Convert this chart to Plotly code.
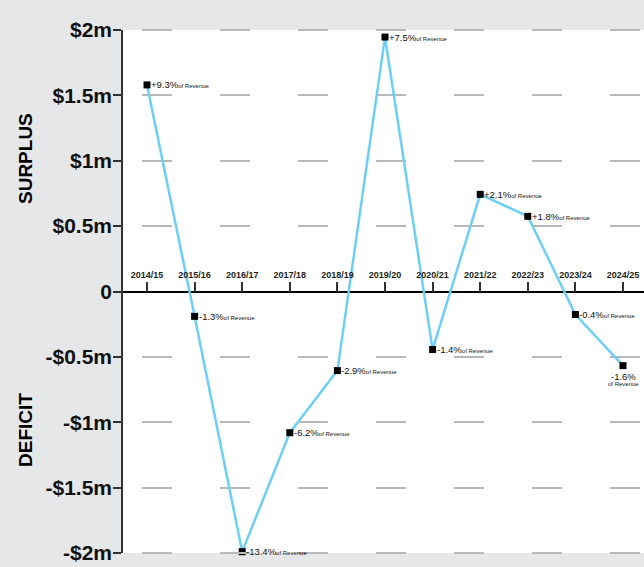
import plotly.graph_objects as go

# Annual operating result ($m) with result as share of revenue
years = ["2014/15", "2015/16", "2016/17", "2017/18", "2018/19", "2019/20",
         "2020/21", "2021/22", "2022/23", "2023/24", "2024/25"]
result_m = [1.58, -0.19, -1.99, -1.08, -0.605, 1.946, -0.444, 0.743, 0.575, -0.176, -0.567]
pct_revenue = ["+9.3%", "-1.3%", "-13.4%", "-6.2%", "-2.9%", "+7.5%",
               "-1.4%", "+2.1%", "+1.8%", "-0.4%", "-1.6%"]

y_tickvals = [2, 1.5, 1, 0.5, 0, -0.5, -1, -1.5, -2]
y_ticktext = ["$2m", "$1.5m", "$1m", "$0.5m", "0", "-$0.5m", "-$1m", "-$1.5m", "-$2m"]

SANS = "Liberation Sans, Arial, sans-serif"
GRID_DASH = "0px,19px,30px,29px"
x_idx = list(range(len(years)))

W, H = 644, 567
ML, MR, MT, MB = 123, 0, 30, 14
pw, ph = W - ML - MR, H - MT - MB

fig = go.Figure()
fig.add_trace(go.Scatter(
    x=x_idx, y=result_m,
    mode="lines+markers",
    line=dict(color="#6dcff6", width=2.5),
    marker=dict(symbol="square", size=7, color="#000000"),
    cliponaxis=False,
    hoverinfo="skip",
))

# Percentage-of-revenue labels beside each point; last one sits below
label_font = dict(family=SANS, size=9.5, color="#111")
annotations = []
for i, (v, p) in enumerate(zip(result_m, pct_revenue)):
    if i == len(years) - 1:
        annotations.append(dict(
            x=i, y=v, xref="x", yref="y", text=p,
            showarrow=False, xanchor="center", yanchor="top", yshift=-3,
            font=label_font,
        ))
        annotations.append(dict(
            x=i, y=v, xref="x", yref="y", text="of Revenue",
            showarrow=False, xanchor="center", yanchor="top", yshift=-13,
            font=dict(family=SANS, size=6, color="#111"),
        ))
    else:
        annotations.append(dict(
            x=i, y=v, xref="x", yref="y",
            text=f"{p}<span style='font-size:6px'>of Revenue</span>",
            showarrow=False, xanchor="left", yanchor="middle", xshift=2,
            font=label_font,
        ))

# Side captions, positioned in pixels and converted to paper fractions
for txt, py in (("SURPLUS", 159), ("DEFICIT", 430)):
    annotations.append(dict(
        x=(25 - ML) / pw, y=(H - MB - py) / ph, xref="paper", yref="paper",
        text=f"<b>{txt}</b>", textangle=-90, showarrow=False,
        xanchor="center", yanchor="middle",
        font=dict(family=SANS, size=19, color="#000"),
    ))

# Dashed guide lines along the top and bottom plot edges
shapes = [
    dict(type="line", xref="paper", yref="paper", x0=0, x1=1, y0=yy, y1=yy,
         line=dict(color="#b8b8b8", width=2, dash=GRID_DASH), layer="above")
    for yy in (0, 1)
]

step = (623 - 147) / 10
fig.update_layout(
    width=W, height=H,
    margin=dict(l=ML, r=MR, t=MT, b=MB, pad=0),
    paper_bgcolor="#e6e7e8",
    plot_bgcolor="#ffffff",
    showlegend=False,
    annotations=annotations,
    shapes=shapes,
    xaxis=dict(
        range=[-24 / step, (W - 147) / step],
        tickmode="array", tickvals=x_idx, ticktext=years,
        side="top", anchor="free", position=0.5,
        ticks="outside", ticklen=10, tickwidth=1.5, tickcolor="#333",
        showline=False, showgrid=False, zeroline=False,
        tickfont=dict(family=SANS, size=9, color="#231f20", weight="bold"),
    ),
    yaxis=dict(
        range=[-2, 2],
        tickmode="array", tickvals=y_tickvals, ticktext=y_ticktext,
        ticks="outside", ticklen=8, tickwidth=1.5, tickcolor="#333",
        ticklabelstandoff=-3,
        showline=True, linecolor="#333", linewidth=1.5,
        showgrid=True, gridcolor="#b8b8b8", gridwidth=2,
        griddash=GRID_DASH,
        zeroline=True, zerolinecolor="#000", zerolinewidth=1.5,
        tickfont=dict(family=SANS, size=21, color="#111", weight="bold"),
    ),
)

fig.write_html("out.html")
